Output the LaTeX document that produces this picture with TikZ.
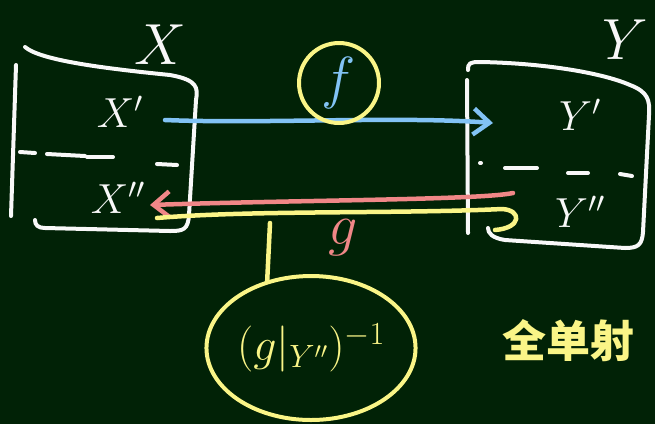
\RequirePackage{fix-cm}
\documentclass[tikz,border=0pt]{standalone}
\usepackage{amsmath,amssymb}
\usepackage{fontspec}
\newfontfamily\cjk{Noto Sans CJK SC}
\usepackage{tikz}
\usetikzlibrary{arrows.meta,shapes.geometric}
\definecolor{Board}{RGB}{1,34,6}
\definecolor{Chalk}{RGB}{248,248,248}
\definecolor{ChalkBlue}{RGB}{130,195,245}
\definecolor{ChalkRed}{RGB}{240,135,135}
\definecolor{ChalkYellow}{RGB}{250,245,135}
\tikzset{
  chalk/.style={draw=Chalk,line width=4pt,line cap=round,line join=round},
  lab/.style={inner sep=0pt,text=Chalk},
  big/.style={font=\fontsize{58}{60}\selectfont},
  mid/.style={font=\fontsize{42}{44}\selectfont},
  tipline/.style={line width=4.5pt,line cap=round,line join=round},
}
\tikzset{barb/.style={-{Straight Barb[length=16pt,width=26pt,line width=4.5pt]}}}

\begin{document}
\begin{tikzpicture}[x=1pt,y=-1pt]
\useasboundingbox (0,0) rectangle (655,424);
\fill[Board] (0,0) rectangle (655,424);
% set X
\draw[chalk] (16,65) -- (11,216);
\draw[chalk] (25,47) .. controls (40,60) and (100,68) .. (170,75)
  .. controls (198,80) and (198,88) .. (196,100) -- (189,215)
  .. controls (188,230) and (183,231) .. (170,231) -- (45,228)
  .. controls (38,228) and (35,225) .. (35,220);
\foreach \a/\b/\c/\d in {20/152/35/153,47/154/85/156,87/157/113/157,157/164/177/165}
  \draw[chalk] (\a,\b) -- (\c,\d);
% set Y
\draw[chalk] (467,80) -- (468,233);
\draw[chalk] (468,70) .. controls (468,63) and (470,62) .. (480,62)
  .. controls (540,63) and (600,72) .. (630,85)
  .. controls (648,92) and (650,100) .. (649,115) -- (643,232)
  .. controls (642,245) and (638,248) .. (625,248) -- (505,240)
  .. controls (492,238) and (488,233) .. (488,228);
\foreach \a/\b/\c/\d in {480/163/481/163,505/168/537/168,568/173/588/173,620/174/632/176}
  \draw[chalk] (\a,\b) -- (\c,\d);
\node[lab,big] (Xlab) at (160,45) {$X$};
\node[lab,big] (Ylab) at (625,40) {$Y$};
\node[lab,mid] (xone) at (120,112) {$X'$};
\node[lab,mid] (xtwo) at (118,198) {$X''$};
\node[lab,mid] (yone) at (580,115) {$Y'$};
\node[lab,mid] (ytwo) at (580,212) {$Y''$};
% maps
\coordinate (fs) at (165,120);
\coordinate (fe) at (493,123);
\coordinate (ps) at (513,193);
\coordinate (pe) at (150,205);
\coordinate (gs) at (157,218);
\coordinate (ge) at (502,209);
\coordinate (gtick) at (270,223);
\draw[tipline,ChalkBlue,barb] (fs) .. controls (260,124) and (400,116) .. (fe);
\draw[tipline,ChalkRed,barb] (ps) .. controls (480,200) and (300,200) .. (pe);
\draw[tipline,ChalkYellow] (gs) .. controls (250,210) and (400,214) .. (ge)
  .. controls (522,210) and (522,228) .. (495,230);
\node[lab,circle,draw=ChalkYellow,line width=4pt,minimum size=80pt,text=ChalkBlue,
  font=\fontsize{58}{60}\selectfont] (flab) at (339,83) {$f$};
\node[lab,text=ChalkRed,font=\fontsize{58}{60}\selectfont] (glab) at (343,238) {$g$};
\node[lab,ellipse,draw=ChalkYellow,line width=4pt,minimum width=202pt,minimum height=144pt,
  text=ChalkYellow,font=\fontsize{46}{48}\selectfont] (invlab) at (311,348) {$(g|_{Y''})^{-1}$};
\draw[tipline,ChalkYellow] (gtick) -- (invlab.123);
\node[lab,text=ChalkYellow,font=\cjk\bfseries\fontsize{44}{46}\selectfont] (note) at (568,341) {全单射};
\end{tikzpicture}
\end{document}
